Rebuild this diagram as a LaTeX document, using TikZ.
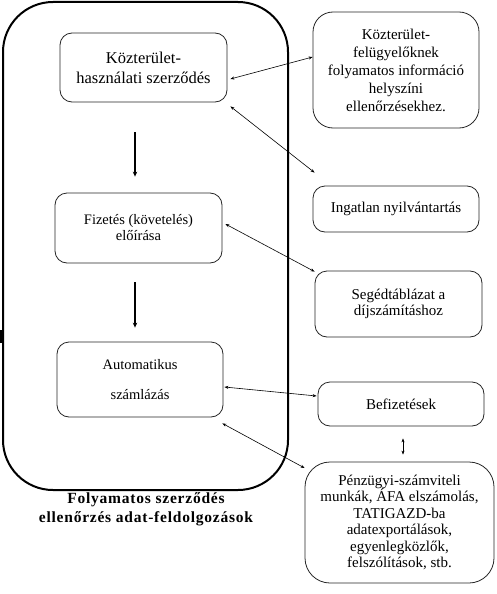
\documentclass[tikz,border=0pt]{standalone}
\usepackage{fontspec}
\setmainfont{Liberation Serif}
\usetikzlibrary{arrows.meta,calc}
\begin{document}
\begin{tikzpicture}[x=1pt,y=-1pt,
 box/.style={draw=black!85, line width=0.8pt, rounded corners=12pt, align=center, inner sep=0pt, font=\fontsize{15}{18}\selectfont},
 link/.style={line width=0.6pt, {Stealth[length=4pt,width=3pt]}-{Stealth[length=4pt,width=3pt]}},
 flow/.style={line width=1.8pt, -{Stealth[length=5pt,width=4.5pt]}}]
\useasboundingbox (0,0) rectangle (497,594);
\fill[white] (0,0) rectangle (497,594);
% outer frame
\node[draw, line width=2pt, rounded corners=50pt, minimum width=285pt, minimum height=488pt, inner sep=0pt] (frame) at (145.5,246) {};
\fill (0,330) rectangle (3,343);
% left boxes
\node[box, font=\fontsize{16.5}{20}\selectfont, minimum width=167pt, minimum height=69pt] (b1) at (143.5,67.5) {Közterület-\\használati szerződés};
\node[box, font=\fontsize{14.5}{16}\selectfont, minimum width=167pt, minimum height=70pt] (b2) at (138.5,228) {Fizetés (követelés)\\előírása};
\node[box, font=\fontsize{14.5}{30}\selectfont, minimum width=166pt, minimum height=75pt] (b3) at (140,379.5) {Automatikus\\számlázás};
\node[font=\bfseries\fontsize{15.5}{19}\selectfont\addfontfeatures{LetterSpace=5}, align=center, inner sep=0pt] (title) at (146,509) {Folyamatos szerződés\\ellenőrzés adat-feldolgozások};
% right boxes
\node[box, rounded corners=20pt, minimum width=166pt, minimum height=116pt] (r1) at (396,70) {Közterület-\\felügyelőknek\\folyamatos információ\\helyszíni\\ellenőrzésekhez.};
\node[box, minimum width=166pt, minimum height=46pt] (r2) at (396,209) {Ingatlan nyilvántartás};
\node[box, font=\fontsize{15}{16.5}\selectfont, minimum width=167pt, minimum height=66pt] (r3) at (398.5,304) {Segédtáblázat a\\díjszámításhoz};
\node[box, minimum width=166pt, minimum height=44pt] (r4) at (401,404) {\raisebox{-5pt}{Befizetések}};
\node[box, rounded corners=25pt, font=\fontsize{15}{16.5}\selectfont, minimum width=189pt, minimum height=121pt] (r5) at (399.5,522.5) {\raisebox{-7pt}{\parbox{180pt}{\centering Pénzügyi-számviteli\\munkák, ÁFA elszámolás,\\TATIGAZD-ba\\adatexportálások,\\egyenlegközlők,\\felszólítások, stb.}}};
% flow arrows
\draw[flow] ($(b1.south)+(-8.5,30)$) -- ($(b2.north)+(-3.5,-16)$);
\draw[flow] ($(b2.south)+(-3.5,19)$) -- ($(b3.north)+(-5,-14)$);
% links
\draw[link] ($(b1.east)+(3,11.5)$) -- ($(r1.west)+(0,-13)$);
\draw[link] ($(b1.south east)+(3,4)$) -- ($(r2.north west)+(2,-13)$);
\draw[link] ($(b2.east)+(3,-4)$) -- ($(r3.north west)+(0,1)$);
\draw[link] ($(b3.east)+(1,7.5)$) -- ($(r4.west)+(-1,-8)$);
\draw[link] ($(b3.south east)+(-1,6)$) -- ($(r5.west)+(0,-54.5)$);
\draw[link] ($(r4.south)+(2,12)$) -- ($(r5.north)+(3.5,-7)$);
\end{tikzpicture}
\end{document}
